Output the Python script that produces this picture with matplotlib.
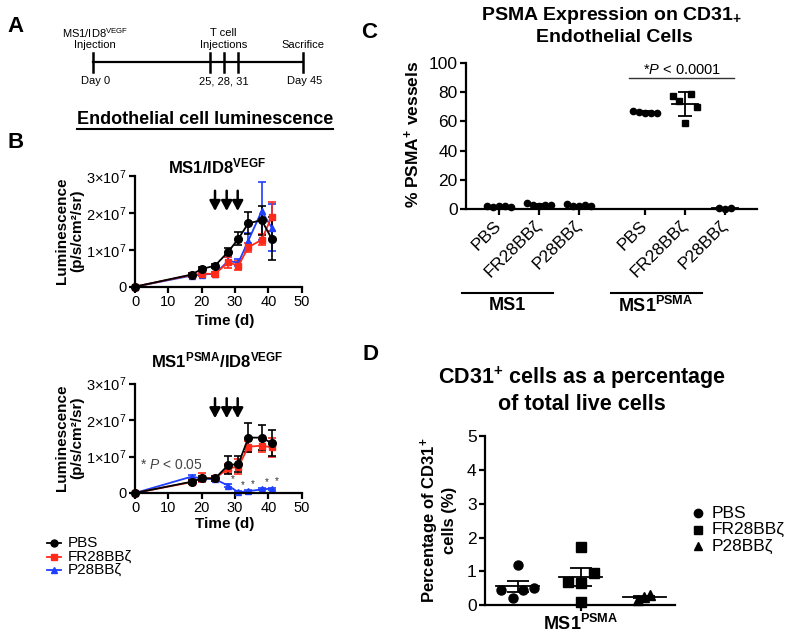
import numpy as np
import matplotlib
matplotlib.use("Agg")
import matplotlib.pyplot as plt
from matplotlib.lines import Line2D

plt.rcParams['font.family'] = ['Liberation Sans', 'DejaVu Sans']
plt.rcParams['mathtext.fontset'] = 'custom'
plt.rcParams['mathtext.rm'] = 'Liberation Sans'
plt.rcParams['mathtext.it'] = 'Liberation Sans:italic'
plt.rcParams['mathtext.bf'] = 'Liberation Sans:bold'

# ---- data ----
timeline_days = [0, 25, 28, 31, 45]

days = [0, 17, 20, 24, 28, 31, 34, 38, 41]
arrow_days = [24, 27.5, 30.8]
# luminescence in units of 1e7 p/s/cm2/sr, MS1/ID8 VEGF
top_pbs = [0, 0.33, 0.48, 0.57, 0.95, 1.30, 1.72, 1.80, 1.30]
top_pbs_err = [0, 0.05, 0.05, 0.05, 0.10, 0.17, 0.30, 0.40, 0.58]
top_fr = [0, 0.32, 0.35, 0.35, 0.66, 0.57, 1.07, 1.27, 1.90]
top_fr_err = [0, 0.05, 0.06, 0.06, 0.15, 0.12, 0.12, 0.15, 0.40]
top_p = [0, 0.30, 0.33, 0.35, 0.70, 0.65, 1.25, 2.05, 1.60]
top_p_err = [0, 0.05, 0.05, 0.05, 0.10, 0.10, 0.20, 0.78, 0.63]
# MS1 PSMA / ID8 VEGF
bot_pbs = [0, 0.31, 0.40, 0.40, 0.77, 0.79, 1.52, 1.52, 1.37]
bot_pbs_err = [0, 0.05, 0.08, 0.06, 0.25, 0.22, 0.39, 0.35, 0.36]
bot_fr = [0, 0.30, 0.42, 0.40, 0.68, 0.72, 1.27, 1.30, 1.25]
bot_fr_err = [0, 0.05, 0.12, 0.06, 0.12, 0.20, 0.15, 0.18, 0.25]
bot_p = [0, 0.45, 0.40, 0.38, 0.20, 0.02, 0.05, 0.10, 0.12]
bot_p_err = [0, 0.04, 0.04, 0.04, 0.04, 0.03, 0.03, 0.03, 0.03]
sig_days = [28, 31, 34, 38, 41]

series_names = ['PBS', 'FR28BBζ', 'P28BBζ']
series_colors = ['black', '#ff2a1a', '#1f3fff']
series_markers = ['o', 's', '^']

# panel C: % PSMA+ vessels
c_labels = ['PBS', 'FR28BBζ', 'P28BBζ', 'PBS', 'FR28BBζ', 'P28BBζ']
c_pos = [0, 1, 2, 3.65, 4.65, 5.65]
c_values = [
    [2.0, 1.5, 2.5, 2.0, 1.5],
    [4.0, 3.0, 2.5, 3.0, 3.0],
    [3.5, 2.5, 2.0, 3.0, 2.0],
    [67.0, 66.5, 66.0, 65.5, 66.0],
    [77.4, 74.0, 59.0, 78.6, 70.0],
    [1.0, 0.5, 1.0],
]

# panel D: CD31+ cells (%)
d_values = [
    [0.45, 0.22, 1.19, 0.45, 0.52],
    [0.68, 0.10, 1.73, 0.65, 0.96],
    [0.17, 0.25, 0.31],
]

W, H = 800, 637
fig = plt.figure(figsize=(8, 6.37), dpi=100)


def box(x0, y0, x1, y1):
    return [x0 / W, 1 - y1 / H, (x1 - x0) / W, (y1 - y0) / H]


def ftext(x, y, s, **kw):
    kw.setdefault('ha', 'center')
    kw.setdefault('va', 'center')
    return fig.text(x / W, 1 - y / H, s, **kw)


def fline(x0, x1, y0, y1=None, **kw):
    if y1 is None:
        y1 = y0
    kw.setdefault('color', 'k')
    kw.setdefault('lw', 1.5)
    fig.add_artist(Line2D([x0 / W, x1 / W], [1 - y0 / H, 1 - y1 / H], **kw))


def prism(ax, fs):
    for s in ['top', 'right']:
        ax.spines[s].set_visible(False)
    for s in ['left', 'bottom']:
        ax.spines[s].set_linewidth(1.6)
    ax.tick_params(width=1.6, length=4, labelsize=fs, direction='out', pad=2)


# ---- panel letters ----
for lt, x, y in [('A', 16, 27), ('B', 16, 143), ('C', 369, 32), ('D', 370, 355)]:
    ftext(x, y, lt, fontsize=16, fontweight='bold')

# ---- panel A: timeline ----
axA = fig.add_axes(box(93, 20, 303, 95))
axA.set_xlim(0, 45)
axA.set_ylim(95, 20)
axA.axis('off')
axA.plot([timeline_days[0], timeline_days[-1]], [62, 62], color='k', lw=1.6, clip_on=False)
for d in timeline_days:
    axA.plot([d, d], [53, 72], color='k', lw=1.8, clip_on=False)
axA.text(0.5, 33, 'MS1/ID8$^{\\mathregular{VEGF}}$', fontsize=8, ha='center', va='center')
axA.text(0.5, 45, 'Injection', fontsize=8, ha='center', va='center')
axA.text(28, 33, 'T cell', fontsize=8, ha='center', va='center')
axA.text(28, 45, 'Injections', fontsize=8, ha='center', va='center')
axA.text(45, 45, 'Sacrifice', fontsize=8, ha='center', va='center')
axA.text(0.5, 81, 'Day 0', fontsize=8, ha='center', va='center')
axA.text(28, 81, '25, 28, 31', fontsize=8, ha='center', va='center')
axA.text(45.3, 81, 'Day 45', fontsize=8, ha='center', va='center')

# ---- panel B ----
ftext(205, 119, 'Endothelial cell luminescence', fontsize=13, fontweight='bold')
fline(77, 333, 129, lw=1.5)


def lum_panel(ax, data):
    for (vals, errs), col, mk in list(zip(data, series_colors, series_markers))[::-1]:
        ms = 5.5 if mk == 'o' else 4.5
        ax.errorbar(days, np.array(vals) * 1e7, yerr=np.array(errs) * 1e7, color=col,
                    marker=mk, ms=ms, lw=1.3, elinewidth=1.2, capsize=3, capthick=1.2,
                    clip_on=False)
    ax.set_xlim(0, 50)
    ax.set_ylim(0, 3e7)
    ax.set_xticks([0, 10, 20, 30, 40, 50])
    ax.set_yticks([0, 1e7, 2e7, 3e7])
    ax.set_yticklabels(['0', '1×10$^{\\mathregular{7}}$', '2×10$^{\\mathregular{7}}$',
                        '3×10$^{\\mathregular{7}}$'])
    prism(ax, 10.5)
    for d in arrow_days:
        ax.annotate('', xy=(d, 2.05e7), xytext=(d, 2.6e7),
                    arrowprops=dict(arrowstyle='-|>,head_width=0.32,head_length=0.6',
                                    lw=1.8, color='k', shrinkA=0, shrinkB=0))


axB1 = fig.add_axes(box(135, 176, 301.7, 286.7))
lum_panel(axB1, [(top_pbs, top_pbs_err), (top_fr, top_fr_err), (top_p, top_p_err)])
ftext(217, 166, 'MS1/ID8$^{\\mathregular{VEGF}}$', fontsize=12, fontweight='bold')
ftext(70, 231, 'Luminescence\n(p/s/cm²/sr)', fontsize=11, fontweight='bold', rotation=90,
      linespacing=1.1)
ftext(225, 321, 'Time (d)', fontsize=11, fontweight='bold')

axB2 = fig.add_axes(box(135, 383.7, 301.7, 493))
lum_panel(axB2, [(bot_pbs, bot_pbs_err), (bot_fr, bot_fr_err), (bot_p, bot_p_err)])
ftext(217, 360, 'MS1$^{\\mathregular{PSMA}}$/ID8$^{\\mathregular{VEGF}}$', fontsize=12,
      fontweight='bold')
ftext(70, 438, 'Luminescence\n(p/s/cm²/sr)', fontsize=11, fontweight='bold', rotation=90,
      linespacing=1.1)
ftext(225, 524, 'Time (d)', fontsize=11, fontweight='bold')
for d in sig_days:
    v = bot_p[days.index(d)] * 1e7
    axB2.annotate('*', xy=(d, v), xytext=(3.5, 1.5), textcoords='offset points',
                  fontsize=7, color='#333333', ha='center', va='bottom')
axB2.text(1.5, 0.77e7, '* $\\it{P}$ < 0.05', fontsize=10, color='#444444', ha='left',
          va='center')

# legend for B
for i, (nm, col, mk) in enumerate(zip(series_names, series_colors, series_markers)):
    y = 543 + i * 13.5
    fline(47, 61, y, color=col, lw=1.3)
    fig.add_artist(Line2D([54 / W], [1 - y / H], marker=mk, color=col, ms=5, lw=0))
    ftext(68, y, nm, fontsize=11, ha='left')

# ---- panel C ----
axC = fig.add_axes(box(466, 62.7, 757, 209.3))
for p, vals in zip(c_pos, c_values):
    n = len(vals)
    offs = np.linspace(-0.3, 0.3, n) if n > 3 else np.array([-0.15, 0, 0.15])
    axC.plot(p + offs, vals, 's' if p == 4.65 else 'o', color='k', ms=4.5, clip_on=False,
             zorder=3)
    m = np.mean(vals)
    sd = np.std(vals, ddof=1)
    axC.plot([p - 0.33, p + 0.33], [m, m], color='k', lw=1.3, clip_on=False)
    axC.errorbar([p], [m], yerr=[sd], color='k', capsize=5, elinewidth=1.3, capthick=1.3,
                 fmt='none', clip_on=False)
axC.set_xlim(-0.825, 6.45)
axC.set_ylim(0, 100)
axC.set_yticks([0, 20, 40, 60, 80, 100])
axC.set_xticks(c_pos)
axC.set_xticklabels(c_labels, rotation=45, ha='right', va='center', rotation_mode='anchor')
prism(axC, 12.5)
axC.tick_params(axis='x', pad=6)
axC.plot([3.25, 5.875], [89.8, 89.8], color='#333333', lw=1, clip_on=False)
axC.text(4.58, 95, '*$\\it{P}$ < 0.0001', fontsize=10.5, ha='center', va='center')
ftext(612, 15, 'PSMA Expression on CD31$_{\\mathregular{+}}$', fontsize=14, fontweight='bold')
ftext(614, 38, 'Endothelial Cells', fontsize=14, fontweight='bold')
ftext(412, 134, '% PSMA$^{\\mathregular{+}}$ vessels', fontsize=12.5, fontweight='bold',
      rotation=90)
fline(462, 553, 293)
fline(611, 702, 293)
ftext(507, 306, 'MS1', fontsize=13, fontweight='bold')
ftext(656, 306, 'MS1$^{\\mathregular{PSMA}}$', fontsize=13, fontweight='bold')

# ---- panel D ----
axD = fig.add_axes(box(485, 436, 675, 605.3))
d_offsets = [[-0.26, -0.07, 0, 0.08, 0.26], [-0.21, 0, 0, 0, 0.21], [-0.1, 0, 0.1]]
for i, (vals, offs, mk) in enumerate(zip(d_values, d_offsets, series_markers)):
    axD.plot(i + np.array(offs), vals, mk, color='k', ms=6.5, clip_on=False, zorder=3)
    m = np.mean(vals)
    sem = np.std(vals, ddof=1) / np.sqrt(len(vals))
    axD.plot([i - 0.34, i + 0.34], [m, m], color='k', lw=1.3, clip_on=False)
    axD.errorbar([i], [m], yerr=[sem], color='k', capsize=8, elinewidth=1.3, capthick=1.3,
                 fmt='none', clip_on=False)
axD.set_xlim(-0.52, 2.49)
axD.set_ylim(0, 5)
axD.set_yticks([0, 1, 2, 3, 4, 5])
axD.set_xticks([1])
axD.set_xticklabels(['MS1$^{\\mathregular{PSMA}}$'], fontweight='bold')
prism(axD, 12.5)
axD.tick_params(axis='x', labelsize=13)
ftext(582, 378, 'CD31$^{\\mathregular{+}}$ cells as a percentage', fontsize=15.5,
      fontweight='bold')
ftext(582, 405, 'of total live cells', fontsize=15.5, fontweight='bold')
ftext(438, 520, 'Percentage of CD31$^{\\mathregular{+}}$\ncells (%)', fontsize=12,
      fontweight='bold', rotation=90, linespacing=1.05)
for i, (nm, mk) in enumerate(zip(series_names, series_markers)):
    y = 513 + i * 16.5
    fig.add_artist(Line2D([698 / W], [1 - y / H], marker=mk, color='k', ms=6, lw=0))
    ftext(712, y, nm, fontsize=12.5, ha='left')

fig.savefig('out.png', dpi=100)
